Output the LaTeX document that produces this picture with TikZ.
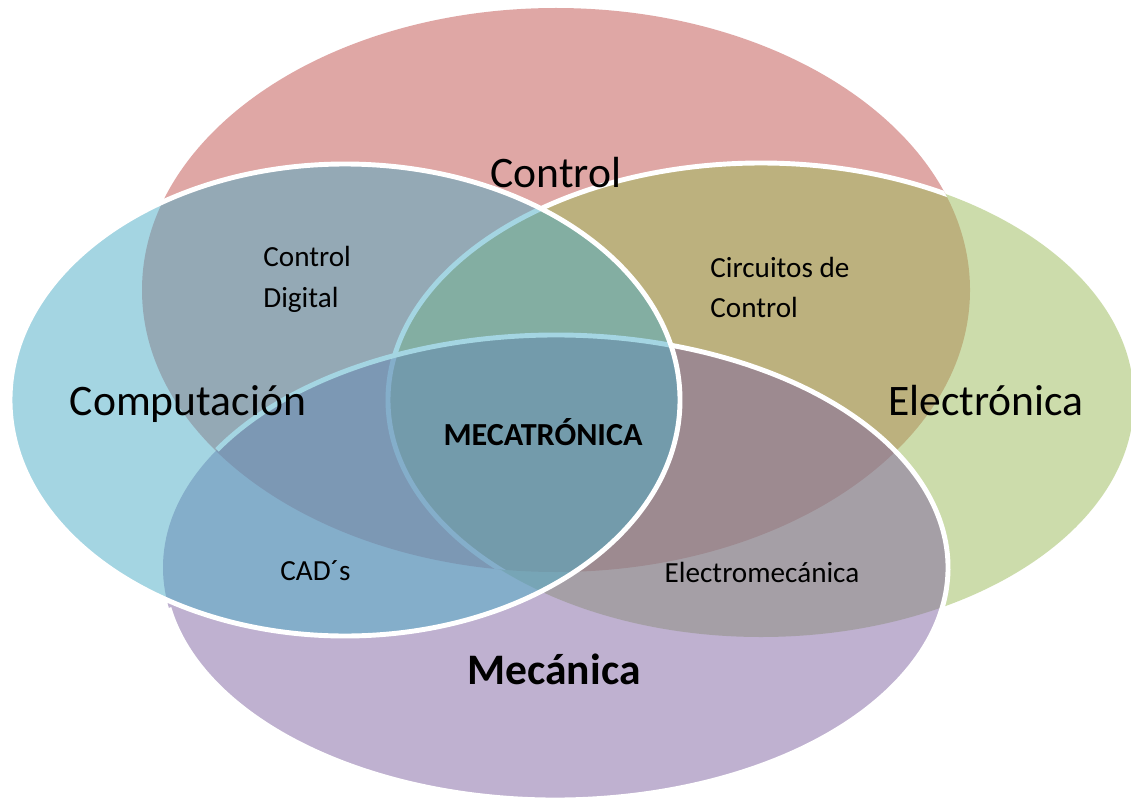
\documentclass[tikz,border=0pt]{standalone}
\usepackage{fontspec}
\setmainfont{Carlito}
\definecolor{ctrlred}{RGB}{192,80,77}
\definecolor{elecgreen}{RGB}{155,187,89}
\definecolor{mechpurple}{RGB}{128,100,162}
\definecolor{compblue}{RGB}{75,172,198}
\begin{document}
\begin{tikzpicture}[x=0.02cm,y=-0.02cm,
  area/.style={fill opacity=0.5},
  rim/.style={draw=white,line width=2.8pt},
  bigtext/.style={inner sep=0pt,font=\fontsize{24.8}{29}\selectfont},
  smalltext/.style={inner sep=0pt,font=\fontsize{16.6}{20}\selectfont}]
\useasboundingbox (0,0) rectangle (1131,804);
\fill[white] (0,0) rectangle (1131,804);

% Control (top)
\fill[ctrlred,area] (556,290) ellipse [x radius=414, y radius=282];

% Electronica (right); its rim shows only inside the Control set
\fill[elecgreen,area] (761,400) ellipse [x radius=373, y radius=237];
\begin{scope}
  \clip (556,290) ellipse [x radius=414, y radius=282];
  \draw[rim] (761,400) ellipse [x radius=373, y radius=237];
\end{scope}

% Mecanica (bottom)
\fill[mechpurple,area] (555.5,567.5) ellipse [x radius=392.5, y radius=232.5];
\draw[rim] (555.5,567.5) ++(-149.6:392.5 and 232.5)
  arc [start angle=-149.6, end angle=170, x radius=392.5, y radius=232.5];

% Computacion (left), on top
\fill[compblue,area] (345,400) ellipse [x radius=335, y radius=236];
\draw[rim] (345,400) ellipse [x radius=335, y radius=236];

% Set names
\node[bigtext,anchor=base] (control) at (556,188) {Control};
\node[bigtext,anchor=base] (computacion) at (188,415) {Computación};
\node[bigtext,anchor=base] (electronica) at (986,415) {Electrónica};
\node[bigtext,anchor=base,font=\fontsize{24.8}{29}\selectfont\bfseries] (mecanica) at (554,684) {Mecánica};

% Intersections
\node[smalltext,anchor=base west] (cdA) at (263,266) {Control};
\node[smalltext,anchor=base west] (cdB) at (263,307) {Digital};
\node[smalltext,anchor=base west] (ccA) at (710,277) {Circuitos de};
\node[smalltext,anchor=base west] (ccB) at (710,317) {Control};
\node[smalltext,anchor=base,font=\fontsize{18.3}{22}\selectfont\bfseries] (meca) at (543,445) {MECATRÓNICA};
\node[smalltext,anchor=base west] (cad) at (280,580) {CAD´s};
\node[smalltext,anchor=base] (elmec) at (762,582) {Electromecánica};
\end{tikzpicture}
\end{document}
